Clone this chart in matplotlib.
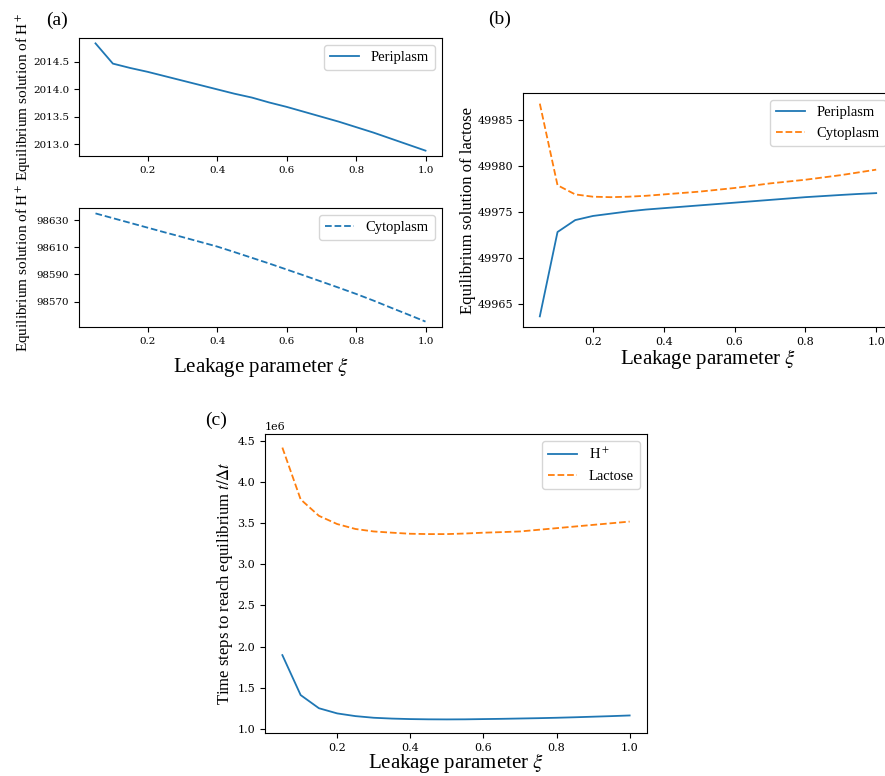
import matplotlib
matplotlib.use("Agg")
import matplotlib.pyplot as plt

xi = [0.05, 0.10, 0.15, 0.20, 0.25, 0.30, 0.35, 0.40, 0.45, 0.50,
      0.55, 0.60, 0.65, 0.70, 0.75, 0.80, 0.85, 0.90, 0.95, 1.00]

h_peri = [2014.84, 2014.47, 2014.39, 2014.32, 2014.24, 2014.16, 2014.08, 2014.00, 2013.92, 2013.85,
          2013.76, 2013.68, 2013.59, 2013.50, 2013.41, 2013.31, 2013.21, 2013.10, 2012.99, 2012.88]
h_cyto = [98635.0, 98631.5, 98628.0, 98624.5, 98621.0, 98617.6, 98614.1, 98610.6, 98606.5, 98602.3,
          98598.1, 98593.7, 98589.3, 98584.8, 98580.3, 98575.7, 98570.8, 98565.6, 98560.5, 98555.3]

lac_peri = [49963.6, 49972.8, 49974.1, 49974.55, 49974.8, 49975.05, 49975.25, 49975.4, 49975.55, 49975.7,
            49975.85, 49976.0, 49976.15, 49976.3, 49976.45, 49976.6, 49976.72, 49976.84, 49976.95, 49977.04]
lac_cyto = [49986.8, 49977.9, 49976.9, 49976.65, 49976.6, 49976.65, 49976.75, 49976.9, 49977.05, 49977.2,
            49977.4, 49977.6, 49977.85, 49978.1, 49978.3, 49978.5, 49978.75, 49979.0, 49979.3, 49979.6]

steps_h = [1.896, 1.41, 1.25, 1.187, 1.154, 1.134, 1.124, 1.118, 1.115, 1.114,
           1.115, 1.118, 1.121, 1.125, 1.129, 1.134, 1.140, 1.147, 1.154, 1.162]
steps_lac = [4.42, 3.79, 3.59, 3.49, 3.43, 3.40, 3.385, 3.372, 3.368, 3.368,
             3.375, 3.385, 3.392, 3.40, 3.42, 3.44, 3.46, 3.48, 3.50, 3.52]
steps_scale = 1e6

xticks = [0.2, 0.4, 0.6, 0.8, 1.0]

plt.rcParams['mathtext.fontset'] = 'stix'
SERIF = ['Liberation Serif', 'DejaVu Serif']
TICKFONT = 'DejaVu Serif'
XLABEL_FS = 15
LEG_FS = 10.5

blue = '#1f77b4'
orange = '#ff7f0e'

W, H = 885, 776
fig = plt.figure(figsize=(W / 100, H / 100), dpi=100)

def box(l, t, r, b):
    return [l / W, 1 - b / H, (r - l) / W, (b - t) / H]

def style(ax, fs):
    ax.set_xticks(xticks)
    for lab in ax.get_xticklabels() + ax.get_yticklabels():
        lab.set_fontfamily(TICKFONT)
        lab.set_fontsize(fs)
    ax.tick_params(labelsize=fs, width=0.8, length=3.5)
    ax.yaxis.get_offset_text().set_fontfamily(TICKFONT)
    ax.yaxis.get_offset_text().set_fontsize(fs)

xlabel = r'Leakage parameter $\xi$'

# (a) top
ax1 = fig.add_axes(box(79, 38, 442, 156))
ax1.plot(xi, h_peri, color=blue, lw=1.3, label='Periplasm')
ax1.set_yticks([2013.0, 2013.5, 2014.0, 2014.5])
style(ax1, 7.4)
ax1.set_ylabel(r'Equilibrium solution of H$^+$', family=SERIF, fontsize=11)
ax1.yaxis.set_label_coords(-0.128, 0.5)
ax1.legend(loc='upper right', prop={'family': SERIF, 'size': LEG_FS})

# (a) bottom
ax2 = fig.add_axes(box(79, 208, 442, 327))
ax2.plot(xi, h_cyto, color=blue, lw=1.3, ls='--', label='Cytoplasm')
ax2.set_yticks([98570, 98590, 98610, 98630])
style(ax2, 7.4)
ax2.set_ylabel(r'Equilibrium solution of H$^+$', family=SERIF, fontsize=11)
ax2.yaxis.set_label_coords(-0.128, 0.5)
ax2.set_xlabel(xlabel, family=SERIF, fontsize=XLABEL_FS, labelpad=7)
ax2.legend(loc='upper right', prop={'family': SERIF, 'size': LEG_FS})
fig.text(57 / W, 1 - 20 / H, '(a)', family=SERIF, fontsize=14, ha='center', va='center')

# (b)
ax3 = fig.add_axes(box(523, 93, 893, 327))
ax3.plot(xi, lac_peri, color=blue, lw=1.3, label='Periplasm')
ax3.plot(xi, lac_cyto, color=orange, lw=1.3, ls='--', label='Cytoplasm')
ax3.set_yticks([49965, 49970, 49975, 49980, 49985])
style(ax3, 8)
ax3.set_ylabel('Equilibrium solution of lactose', family=SERIF, fontsize=12)
ax3.yaxis.set_label_coords(-0.127, 0.5)
ax3.set_xlabel(xlabel, family=SERIF, fontsize=XLABEL_FS, labelpad=0)
ax3.legend(loc='upper right', prop={'family': SERIF, 'size': LEG_FS})
fig.text(500 / W, 1 - 19 / H, '(b)', family=SERIF, fontsize=14, ha='center', va='center')

# (c)
ax4 = fig.add_axes(box(265, 434, 647, 733))
ax4.plot(xi, [v * steps_scale for v in steps_h], color=blue, lw=1.3, label=r'H$^+$')
ax4.plot(xi, [v * steps_scale for v in steps_lac], color=orange, lw=1.3, ls='--', label='Lactose')
ax4.set_yticks([1.0e6, 1.5e6, 2.0e6, 2.5e6, 3.0e6, 3.5e6, 4.0e6, 4.5e6])
style(ax4, 8)
ax4.set_ylabel(r'Time steps to reach equilibrium $t/\Delta t$', family=SERIF, fontsize=12)
ax4.yaxis.set_label_coords(-0.079, 0.5)
ax4.set_xlabel(xlabel, family=SERIF, fontsize=XLABEL_FS, labelpad=-1)
ax4.legend(loc='upper right', prop={'family': SERIF, 'size': LEG_FS})
fig.text(216 / W, 1 - 420 / H, '(c)', family=SERIF, fontsize=14, ha='center', va='center')

fig.savefig('out.png', dpi=100)
